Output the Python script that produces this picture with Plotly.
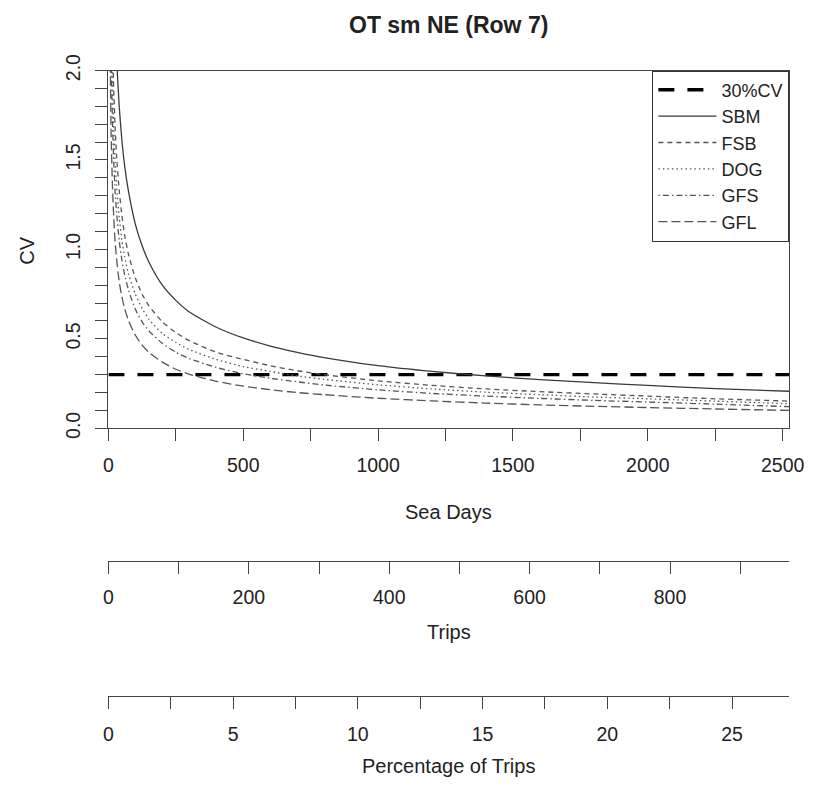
import plotly.graph_objects as go

# ---- data ----
sea_days = [5, 10, 15, 20, 25, 30, 40, 50, 60, 75, 100, 125, 150, 200, 250, 300, 400,
            500, 600, 700, 800, 1000, 1200, 1400, 1600, 1800, 2000, 2250, 2525]

cv_sbm = [5.1, 3.6, 2.95, 2.55, 2.28, 2.08, 1.80, 1.61, 1.47, 1.32, 1.14, 1.02, 0.93, 0.80,
          0.715, 0.65, 0.565, 0.505, 0.46, 0.425, 0.395, 0.35, 0.318, 0.293, 0.272, 0.255,
          0.24, 0.222, 0.207]
cv_fsb = [3.75, 2.65, 2.17, 1.88, 1.68, 1.53, 1.33, 1.19, 1.08, 0.97, 0.84, 0.75, 0.685, 0.595,
          0.535, 0.49, 0.425, 0.385, 0.35, 0.322, 0.30, 0.265, 0.24, 0.22, 0.205, 0.192,
          0.18, 0.165, 0.152]
cv_dog = [3.3, 2.35, 1.92, 1.66, 1.49, 1.36, 1.18, 1.05, 0.96, 0.86, 0.75, 0.67, 0.61, 0.53,
          0.48, 0.44, 0.385, 0.345, 0.318, 0.293, 0.274, 0.243, 0.22, 0.202, 0.188, 0.175,
          0.165, 0.152, 0.137]
cv_gfs = [2.95, 2.1, 1.71, 1.48, 1.32, 1.21, 1.05, 0.94, 0.86, 0.77, 0.665, 0.595, 0.545, 0.475,
          0.425, 0.39, 0.34, 0.305, 0.28, 0.26, 0.242, 0.215, 0.195, 0.18, 0.167, 0.156,
          0.147, 0.135, 0.121]
cv_gfl = [2.33, 1.65, 1.35, 1.17, 1.04, 0.95, 0.82, 0.735, 0.67, 0.60, 0.52, 0.465, 0.425, 0.37,
          0.33, 0.302, 0.263, 0.236, 0.216, 0.20, 0.188, 0.168, 0.153, 0.141, 0.131, 0.123,
          0.116, 0.108, 0.10]

target_cv = 0.3
sea_days_max = 2525
cv_max = 2.0

trips_max = 970
trips_ticks = [0, 200, 400, 600, 800]
pct_max = 27.3
pct_ticks = [0, 5, 10, 15, 20, 25]

sea_day_ticks = [0, 500, 1000, 1500, 2000, 2500]
cv_ticks = [0.0, 0.5, 1.0, 1.5, 2.0]
cv_tick_labels = ["0.0", "0.5", "1.0", "1.5", "2.0"]

# ---- figure ----
W, H = 820, 786
FONT = "Liberation Sans, Arial, sans-serif"
AX = "#444444"
TXT = "#222222"
FS = 19.5
TL = 12

def px_x(p):
    return p / W

def px_y(p):
    return (H - p) / H

fig = go.Figure()

fig.add_trace(go.Scatter(x=[0, sea_days_max], y=[target_cv, target_cv], mode="lines",
                         name="30%CV", line=dict(color="black", width=3.4, dash="16px,13px")))

series = [
    ("SBM", cv_sbm, "solid", "#3a3a3a"),
    ("FSB", cv_fsb, "5px,4px", "#555555"),
    ("DOG", cv_dog, "1.5px,3px", "#555555"),
    ("GFS", cv_gfs, "1.5px,3px,6px,3px", "#555555"),
    ("GFL", cv_gfl, "9px,4px", "#555555"),
]
for name, vals, dash, col in series:
    fig.add_trace(go.Scatter(x=sea_days, y=vals, mode="lines", name=name,
                             line=dict(color=col, width=1.3, dash=dash, shape="spline",
                                       smoothing=0.6)))

fig.add_trace(go.Scatter(x=[0, trips_max], y=[None, None], xaxis="x2", yaxis="y",
                         showlegend=False, hoverinfo="skip", mode="lines"))
fig.add_trace(go.Scatter(x=[0, pct_max], y=[None, None], xaxis="x3", yaxis="y",
                         showlegend=False, hoverinfo="skip", mode="lines"))

LEFT, RIGHT, TOP, BOTTOM = 106, 804, 55.5, 426.5
dom_x = [px_x(LEFT), px_x(RIGHT)]
dom_y = [px_y(BOTTOM), px_y(TOP)]

common_x = dict(showline=True, linecolor=AX, linewidth=1, ticks="outside", ticklen=TL,
                tickcolor=AX, tickwidth=1, showgrid=False, zeroline=False,
                tickfont=dict(family=FONT, size=FS, color=TXT), domain=dom_x)

fig.update_layout(
    width=W, height=H,
    margin=dict(l=0, r=0, t=0, b=0),
    paper_bgcolor="white", plot_bgcolor="white",
    font=dict(family=FONT, color=TXT, size=FS),
    showlegend=True,
    legend=dict(x=px_x(RIGHT), y=px_y(TOP), xanchor="right", yanchor="top",
                bordercolor="#333333", borderwidth=1, bgcolor="white",
                font=dict(family=FONT, size=18, color=TXT), itemwidth=58,
                tracegroupgap=0),
    xaxis=dict(**common_x, range=[0, sea_days_max], tickmode="array",
               tickvals=sea_day_ticks, ticklabelstandoff=7, mirror=True,
               minor=dict(dtick=250, ticklen=TL, tickcolor=AX, ticks="outside", showgrid=False),
               anchor="y"),
    yaxis=dict(range=[0, cv_max], domain=dom_y, showline=True, linecolor=AX, linewidth=1,
               mirror=True, ticks="outside", ticklen=TL, tickcolor=AX, showgrid=False,
               zeroline=False, tickmode="array", tickvals=cv_ticks, ticktext=cv_tick_labels,
               tickangle=-90, ticklabelstandoff=8,
               tickfont=dict(family=FONT, size=FS, color=TXT),
               minor=dict(dtick=0.1, ticklen=TL, tickcolor=AX, ticks="outside", showgrid=False),
               anchor="x"),
    xaxis2=dict(**common_x, range=[0, trips_max], overlaying="x", anchor="free",
                position=px_y(564), side="bottom", tickmode="array", tickvals=trips_ticks,
                ticklabelstandoff=7,
                minor=dict(dtick=100, ticklen=TL, tickcolor=AX, ticks="outside", showgrid=False)),
    xaxis3=dict(**common_x, range=[0, pct_max], overlaying="x", anchor="free",
                position=px_y(704), side="bottom", tickmode="array", tickvals=pct_ticks,
                ticklabelstandoff=9,
                minor=dict(dtick=2.5, ticklen=TL, tickcolor=AX, ticks="outside", showgrid=False)),
)

cx = px_x((LEFT + RIGHT) / 2)
annos = [
    dict(text="<b>OT sm NE (Row 7)</b>", x=cx, y=px_y(8), size=23, angle=0),
    dict(text="Sea Days", x=cx, y=px_y(513), size=20, angle=0),
    dict(text="Trips", x=cx, y=px_y(638), size=20, angle=0),
    dict(text="Percentage of Trips", x=cx, y=px_y(777), size=20, angle=0),
    dict(text="CV", x=px_x(23), y=px_y(242), size=20, angle=-90),
]
for a in annos:
    fig.add_annotation(text=a["text"], x=a["x"], y=a["y"], xref="paper", yref="paper",
                       xanchor="center", yanchor="middle", showarrow=False,
                       textangle=a["angle"], font=dict(family=FONT, size=a["size"], color=TXT))

css_js = (
    "var s=document.createElement('style');"
    "s.innerHTML='html,body{margin:0!important;padding:0!important;overflow:hidden!important;}';"
    "document.head.appendChild(s);"
)
fig.write_html("out.html", config={"displayModeBar": False}, post_script=css_js)
